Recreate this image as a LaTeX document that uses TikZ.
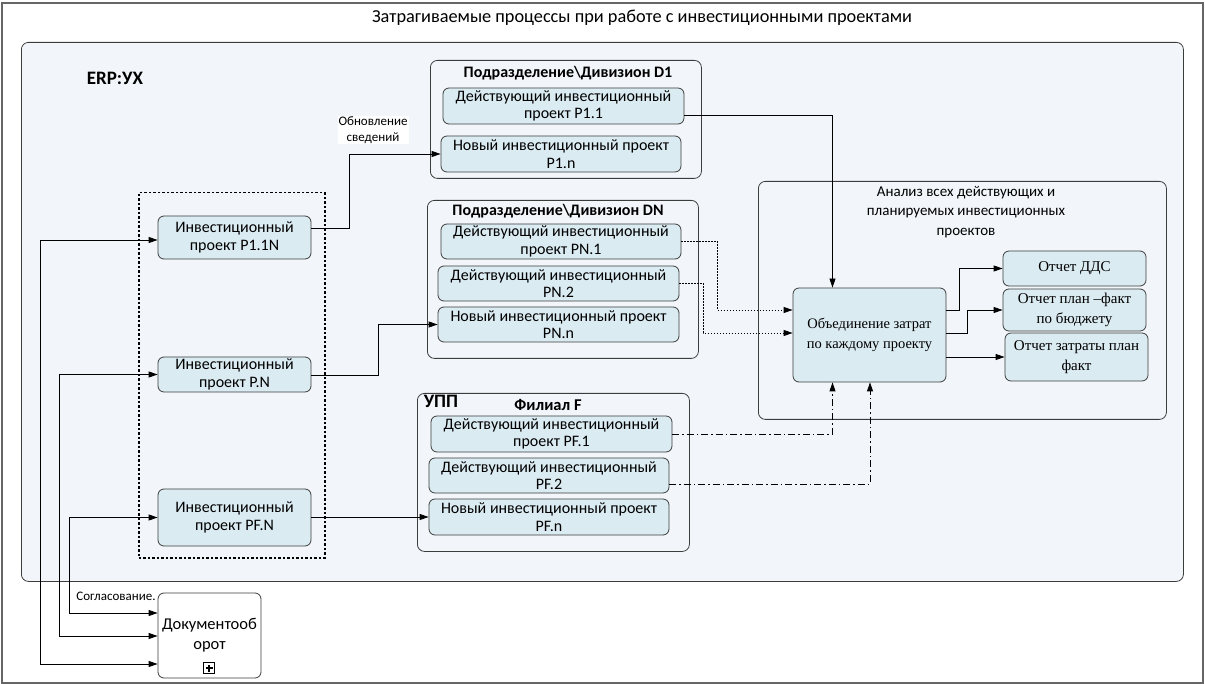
\documentclass[tikz,border=0pt]{standalone}
\usepackage{fontspec}
\setmainfont{Carlito}
\newfontfamily\tnr{Liberation Serif}
\usetikzlibrary{arrows.meta}
\definecolor{bgc}{RGB}{242,246,250}
\definecolor{boxc}{RGB}{219,235,242}
\definecolor{edgec}{RGB}{60,60,60}
\begin{document}
\begin{tikzpicture}[x=1pt,y=-1pt,
  proj/.style={draw=edgec, line width=0.8pt, fill=boxc, rounded corners=6pt, align=center, inner sep=0pt, font=\fontsize{16}{17.5}\selectfont},
  rep/.style={proj, font=\tnr\fontsize{15}{20}\selectfont},
  cont/.style={draw=edgec, line width=0.8pt, rounded corners=7pt, inner sep=0pt, anchor=north west},
  ctitle/.style={font=\bfseries\fontsize{16}{18}\selectfont, inner sep=0pt},
  conn/.style={line width=0.8pt, -{Triangle[length=9pt,width=6pt]}},
  both/.style={line width=0.8pt, {Triangle[length=9pt,width=6pt]}-{Triangle[length=9pt,width=6pt]}},
  dotc/.style={conn, dash pattern=on 1.5pt off 1.5pt},
  dashdot/.style={conn, dash pattern=on 7pt off 3pt on 1.5pt off 3pt},
  small/.style={font=\fontsize{13}{16}\selectfont, align=center, inner sep=1pt}
]
\useasboundingbox (0,0) rectangle (1205,684);
% outer frame
\draw[black!60, line width=1.5pt] (2,3) rectangle (1203,683);
\node[font=\fontsize{18.3}{21}\selectfont, inner sep=0pt] (title) at (642,18) {Затрагиваемые процессы при работе с инвестиционными проектами};

% ERP container
\node[cont, fill=bgc, minimum width=1162pt, minimum height=539pt] (erp) at (21,42) {};
\node[font=\bfseries\fontsize{19}{22}\selectfont, inner sep=0pt] (erpt) at (115,78) {ERP:УХ};

% dotted group
\node[draw, line width=1.5pt, dash pattern=on 2.5pt off 2pt, minimum width=186pt, minimum height=365pt, inner sep=0pt, anchor=north west] (grp) at (138,192) {};

% sub containers
\node[cont, minimum width=271pt, minimum height=118pt] (D1) at (430,60) {};
\node[ctitle] (D1t) at (568,73) {Подразделение\textbackslash Дивизион D1};
\node[cont, minimum width=271pt, minimum height=158pt] (DN) at (427,200) {};
\node[ctitle] (DNt) at (558,211) {Подразделение\textbackslash Дивизион DN};
\node[cont, minimum width=272pt, minimum height=158pt] (FF) at (417,393) {};
\node[font=\bfseries\fontsize{19}{22}\selectfont, inner sep=0pt] (upp) at (441,401) {УПП};
\node[ctitle, font=\bfseries\fontsize{16.5}{18}\selectfont] (FFt) at (548,405) {Филиал F};
\node[cont, minimum width=408pt, minimum height=238pt] (AN) at (758,181) {};
\node[font=\fontsize{15}{19.5}\selectfont, align=center, inner sep=0pt] (ANt) at (966,212) {Анализ всех действующих и\\планируемых инвестиционных\\проектов};

% left project boxes
\node[proj, minimum width=153pt, minimum height=43pt] (P11N) at (234.5,237.5) {Инвестиционный\\проект P1.1N};
\node[proj, minimum width=153pt, minimum height=35pt] (PN) at (234.5,374.5) {Инвестиционный\\проект P.N};
\node[proj, minimum width=153pt, minimum height=57pt] (PFN) at (234.5,517.5) {Инвестиционный\\проект PF.N};

% document flow
\node[draw=edgec, line width=0.8pt, fill=white, rounded corners=6pt, minimum width=103pt, minimum height=85pt, inner sep=0pt, align=center, font=\fontsize{16.5}{20}\selectfont] (doc) at (209.5,635.5) {Документооб\\орот};
\node[draw=black, line width=0.8pt, fill=white, minimum size=11pt, inner sep=0pt,
  path picture={\draw[line width=1.3pt] ([xshift=-3.5pt]path picture bounding box.center) -- ([xshift=3.5pt]path picture bounding box.center);
                \draw[line width=1.3pt] ([yshift=-3.5pt]path picture bounding box.center) -- ([yshift=3.5pt]path picture bounding box.center);}] (plus) at (209,668) {};

% D1 boxes
\node[proj, minimum width=241pt, minimum height=36pt] (P11) at (563.5,106) {Действующий инвестиционный\\проект P1.1};
\node[proj, minimum width=240pt, minimum height=36pt] (P1n) at (561,154) {Новый инвестиционный проект\\P1.n};
% DN boxes
\node[proj, minimum width=240pt, minimum height=35pt] (PN1) at (561,241.5) {Действующий инвестиционный\\проект PN.1};
\node[proj, minimum width=241pt, minimum height=35pt] (PN2) at (558.5,283.5) {Действующий инвестиционный\\PN.2};
\node[proj, minimum width=241pt, minimum height=35pt] (PNn) at (558.5,324.5) {Новый инвестиционный проект\\PN.n};
% F boxes
\node[proj, minimum width=241pt, minimum height=36pt] (PF1) at (551.5,434) {Действующий инвестиционный\\проект PF.1};
\node[proj, minimum width=240pt, minimum height=35pt] (PF2) at (549,475.5) {Действующий инвестиционный\\PF.2};
\node[proj, minimum width=240pt, minimum height=36pt] (PFn) at (549,517) {Новый инвестиционный проект\\PF.n};

% analysis boxes
\node[rep, minimum width=153pt, minimum height=94pt, font=\tnr\fontsize{14.5}{20}\selectfont] (obj) at (869.5,335) {Объединение затрат\\по каждому проекту};
\node[rep, minimum width=143pt, minimum height=35pt] (dds) at (1074.5,268.5) {Отчет ДДС};
\node[rep, minimum width=143pt, minimum height=42pt] (pf) at (1074.5,310) {Отчет план –факт\\по бюджету};
\node[rep, minimum width=143pt, minimum height=48pt] (zf) at (1076.5,357) {Отчет затраты план\\факт};

% connectors
\draw[conn] ([yshift=9.5pt]P11N.east) -- ++(38,0) |- (P1n.west);
\node[small, fill=white] (upd) at (373,130) {Обновление\\сведений};
\draw[conn] ([yshift=-0.5pt]PN.east) -- ++(67,0) |- (PNn.west);
\draw[conn] (PFN.east |- PFn.west) -- (PFn.west);

\draw[conn] ([yshift=-9pt]P11.east) -| ([xshift=-37pt]obj.north);
\draw[dotc] (PN1.east) -- ++(36,0) |- ([yshift=25pt]obj.west);
\draw[dotc] (PN2.east) -- ++(24,0) |- ([yshift=2pt]obj.west);
\draw[dashdot] (PF1.east) -| ([xshift=-37pt]obj.south);
\draw[dashdot] ([yshift=-8.5pt]PF2.east) -| ([xshift=0.5pt]obj.south);

\draw[conn] ([yshift=25pt]obj.east) -- ++(13,0) |- (dds.west);
\draw[conn] ([yshift=2pt]obj.east) -- ++(21,0) |- (pf.west);
\draw[conn] (obj.east |- zf.west) -- (zf.west);

\draw[both] ([yshift=-28.5pt]doc.west) -- ++(-117,0) |- ([yshift=-2.5pt]P11N.west);
\draw[both] ([yshift=-0.5pt]doc.west) -- ++(-98,0) |- (PN.west);
\draw[both] ([yshift=22.5pt]doc.west) -- ++(-88,0) |- (PFN.west);
\node[small, anchor=south] (agr) at (116,602) {Согласование.};
\end{tikzpicture}
\end{document}
